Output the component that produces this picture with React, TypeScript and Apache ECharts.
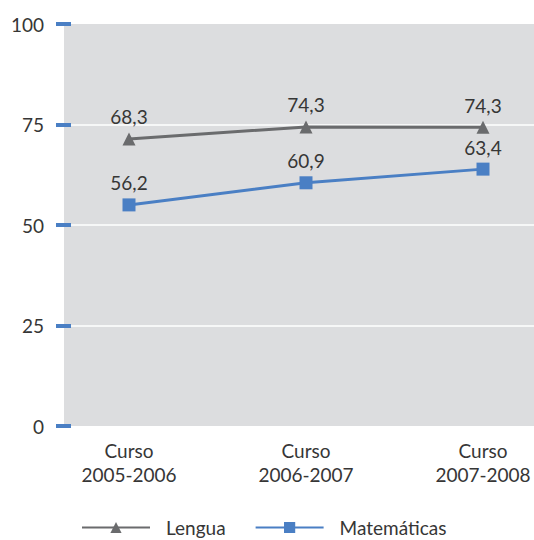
import React, { useEffect, useRef } from "react";
import * as echarts from "echarts";

const categories = ["Curso\n2005-2006", "Curso\n2006-2007", "Curso\n2007-2008"];
const lenguaValues = [71.4, 74.4, 74.3];
const lenguaLabels = ["68,3", "74,3", "74,3"];
const matValues = [55.0, 60.5, 63.9];
const matLabels = ["56,2", "60,9", "63,4"];
const seriesNames = ["Lengua", "Matemáticas"];

const FONT = "Lato";
const FS = 19;
const TEXT = "#363636";
const GRAY = "#6a6b6d";
const BLUE = "#4a7fc4";

export default function App() {
  const ref = useRef<HTMLDivElement>(null);
  useEffect(() => {
    document.body.style.margin = "0";
    const chart = echarts.init(ref.current!, undefined, { renderer: "svg" });
    chart.setOption({
      animation: false,
      textStyle: { fontFamily: FONT },
      graphic: [
        {
          type: "rect",
          z: -10,
          shape: { x: 64, y: 24, width: 470, height: 402 },
          style: { fill: "#dcdddf" },
        },
      ],
      grid: {
        left: 40.5,
        width: 531,
        top: 24,
        bottom: 114,
        containLabel: false,
        outerBoundsMode: "none",
      },
      xAxis: {
        type: "category",
        data: categories,
        boundaryGap: true,
        axisLine: { show: false },
        axisTick: { show: false },
        axisLabel: { fontSize: FS, color: TEXT, fontFamily: FONT, lineHeight: 24, margin: 12 },
      },
      yAxis: {
        type: "value",
        min: 0,
        max: 100,
        interval: 25,
        offset: -30.5,
        axisLine: { show: false },
        axisTick: { show: true, length: 15, lineStyle: { color: BLUE, width: 4 } },
        axisLabel: { fontSize: FS, color: TEXT, fontFamily: FONT, margin: 27 },
        splitLine: { show: true, showMinLine: false, showMaxLine: false, lineStyle: { color: "#ffffff", width: 1.5 } },
      },
      legend: {
        data: seriesNames,
        left: 76,
        top: 513,
        itemWidth: 68,
        itemHeight: 14,
        itemGap: 29,
        textStyle: { fontSize: FS, color: TEXT, fontFamily: FONT, padding: [0, 0, 0, 11] },
      },
      series: [
        {
          name: seriesNames[0],
          type: "line",
          data: lenguaValues,
          symbol: "triangle",
          symbolSize: 13,
          itemStyle: { color: GRAY },
          lineStyle: { color: GRAY, width: 3 },
          label: {
            show: true,
            position: "top",
            distance: 6,
            fontSize: FS,
            color: TEXT,
            fontFamily: FONT,
            formatter: (p: any) => lenguaLabels[p.dataIndex],
          },
        },
        {
          name: seriesNames[1],
          type: "line",
          data: matValues,
          symbol: "rect",
          symbolSize: 13,
          itemStyle: { color: BLUE },
          lineStyle: { color: BLUE, width: 3 },
          label: {
            show: true,
            position: "top",
            distance: 6,
            fontSize: FS,
            color: TEXT,
            fontFamily: FONT,
            formatter: (p: any) => matLabels[p.dataIndex],
          },
        },
      ],
    });
    return () => chart.dispose();
  }, []);
  return <div ref={ref} style={{ width: 534, height: 540 }} />;
}
